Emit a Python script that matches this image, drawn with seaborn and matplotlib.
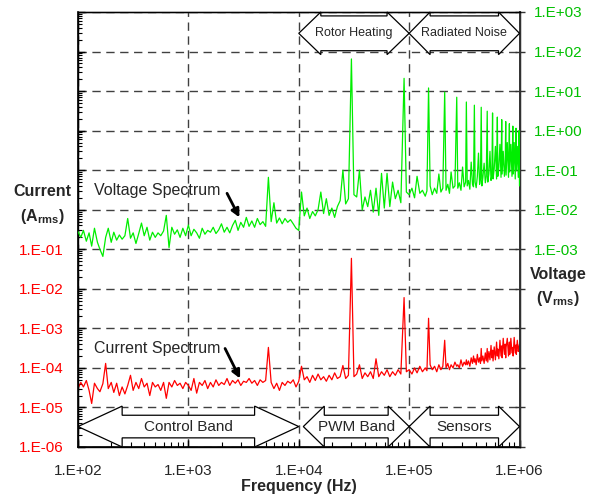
import numpy as np
import pandas as pd
import matplotlib
matplotlib.use("Agg")
import matplotlib.pyplot as plt
import seaborn as sns
from matplotlib.patches import Polygon
from matplotlib.transforms import blended_transform_factory
from matplotlib.ticker import LogLocator, FuncFormatter, NullFormatter

# ---------------- data ----------------
freq_hz = [
    100, 106, 112, 119, 126, 133, 141, 150, 158, 168, 178, 188, 200, 211, 224, 237, 251, 266, 282, 299,
    316, 335, 355, 376, 398, 422, 447, 473, 501, 531, 562, 596, 631, 668, 708, 750, 794, 841, 891, 944,
    1000, 1059, 1122, 1189, 1259, 1334, 1413, 1496, 1585, 1679, 1778, 1884, 1995, 2113, 2239, 2371, 2512, 2661, 2818, 2985,
    3162, 3350, 3548, 3758, 3981, 4217, 4467, 4732, 5012, 5309, 5623, 5957, 6310, 6683, 7079, 7499, 7943, 8414, 8913, 9441,
    10000, 10593, 11220, 11885, 12589, 13335, 14125, 14962, 15849, 16788, 17783, 18836, 19953, 21135, 22387, 23714, 25119, 26607, 28184, 30000,
    31623, 33497, 35481, 37584, 39811, 42170, 44668, 47315, 50119, 53088, 56234, 59566, 63096, 66834, 70795, 74989, 79433, 84140, 90000, 94406,
    100000, 106000, 112000, 118000, 125000, 132000, 140000, 145000,
    150000, 155000, 162000, 170000, 178000, 186000, 194000, 202000,
    210000, 216000, 224000, 232000, 240000, 250000, 260000,
    270000, 276000, 285000, 295000, 305000, 315000, 325000,
    330000, 336000, 345000, 355000, 365000, 375000, 383000,
    390000, 396000, 405000, 415000, 425000, 435000, 443000,
    450000, 456000, 466000, 478000, 490000, 500000,
    510000, 516000, 528000, 540000, 552000, 562000,
    570000, 576000, 590000, 605000, 620000,
    630000, 636000, 650000, 665000, 680000,
    690000, 696000, 712000, 730000, 742000,
    750000, 756000, 775000, 795000,
    810000, 816000, 835000, 855000,
    870000, 876000, 895000, 915000,
    930000, 936000, 955000, 975000,
    990000, 1000000,
]

voltage_vrms = [
    2.8e-3, 2.0e-3, 3.0e-3, 1.6e-3, 2.6e-3, 1.2e-3, 3.4e-3, 1.5e-3, 1.0e-3, 6.6e-4,
    2.0e-3, 3.4e-3, 1.5e-3, 2.7e-3, 1.7e-3, 2.3e-3, 1.8e-3, 2.2e-3, 6.0e-3, 1.9e-3,
    2.6e-3, 1.4e-3, 2.5e-3, 4.6e-3, 2.2e-3, 3.6e-3, 1.7e-3, 2.7e-3, 2.0e-3, 2.6e-3,
    2.2e-3, 2.9e-3, 7.2e-3, 1.1e-3, 3.6e-3, 2.4e-3, 3.1e-3, 2.0e-3, 3.4e-3, 2.2e-3,
    4.1e-3, 2.2e-3, 3.2e-3, 2.6e-3, 1.9e-3, 3.4e-3, 2.4e-3, 3.0e-3, 2.7e-3, 3.6e-3,
    2.5e-3, 3.1e-3, 4.4e-3, 2.7e-3, 3.6e-3, 2.6e-3, 4.0e-3, 5.4e-3, 3.0e-3, 4.8e-3,
    3.6e-3, 6.4e-3, 3.8e-3, 5.2e-3, 3.6e-3, 6.0e-3, 4.2e-3, 5.0e-3, 3.8e-3, 6.6e-2,
    5.0e-3, 1.5e-2, 4.6e-3, 6.2e-3, 4.4e-3, 6.0e-3, 4.8e-3, 5.6e-3, 4.4e-3, 3.4e-3,
    3.0e-3, 2.8e-2, 7.0e-3, 1.1e-2, 6.0e-3, 9.0e-3, 7.0e-3, 1.0e-2, 2.8e-2, 8.0e-3,
    1.9e-2, 7.2e-3, 1.1e-2, 6.4e-3, 1.2e-2, 1.7e-2, 1.0e-1, 1.4e-2, 1.9e-2, 65.0,
    2.4e-2, 2.1e-2, 1.0e-1, 9.8e-3, 2.1e-2, 1.2e-2, 3.1e-2, 8.7e-3, 3.5e-2, 7.2e-3,
    8.3e-2, 1.1e-2, 8.3e-2, 1.2e-2, 5.0e-2, 1.9e-2, 3.1e-2, 1.5e-2, 21.0, 2.8e-2,
    2.4e-2, 3.5e-2, 2.0e-2, 7.0e-2, 2.6e-2, 3.1e-2, 2.2e-2, 3.0e-2,
    12.0, 4.0e-2, 2.4e-2, 3.5e-2, 2.6e-2, 8.0e-2, 2.8e-2, 3.5e-2,
    9.4, 3.1e-2, 4.4e-2, 2.6e-2, 9.0e-2, 3.5e-2, 4.0e-2,
    7.0, 3.5e-2, 4.8e-2, 3.1e-2, 1.2e-1, 3.8e-2, 5.0e-2,
    5.3, 4.0e-2, 5.5e-2, 3.3e-2, 1.6e-1, 4.4e-2, 3.8e-2,
    4.4, 5.0e-2, 3.6e-2, 7.0e-2, 2.7e-1, 4.4e-2, 6.0e-2,
    3.9, 4.0e-2, 6.6e-2, 1.5e-1, 4.8e-2, 7.0e-2,
    3.1, 5.0e-2, 8.0e-2, 3.0e-1, 5.5e-2, 7.5e-2,
    2.8, 6.0e-2, 1.1e-1, 4.0e-1, 6.0e-2,
    2.2, 7.0e-2, 1.2e-1, 4.5e-1, 6.6e-2,
    1.9, 8.0e-2, 3.0e-1, 7.0e-2, 1.3e-1,
    1.7, 7.5e-2, 5.0e-1, 6.6e-2,
    1.5, 9.0e-2, 4.5e-1, 7.0e-2,
    1.3, 8.0e-2, 5.0e-1, 6.0e-2,
    1.15, 1.0e-1, 4.0e-1, 6.6e-2,
    1.0, 4.0e-2,
]

current_arms = [
    3.0e-5, 4.3e-5, 3.3e-5, 4.8e-5, 2.7e-5, 1.26e-5, 4.1e-5, 3.0e-5, 2.5e-5, 4.0e-5,
    1.3e-4, 3.0e-5, 4.3e-5, 2.4e-5, 4.1e-5, 2.0e-5, 3.3e-5, 2.2e-5, 3.6e-5, 6.5e-5,
    2.7e-5, 4.3e-5, 3.0e-5, 5.4e-5, 3.3e-5, 4.1e-5, 2.0e-5, 4.3e-5, 3.3e-5, 3.8e-5,
    2.7e-5, 4.3e-5, 1.7e-5, 4.3e-5, 3.3e-5, 4.8e-5, 3.6e-5, 4.1e-5, 3.0e-5, 4.3e-5,
    3.6e-5, 2.7e-5, 5.4e-5, 2.3e-5, 4.3e-5, 3.6e-5, 4.8e-5, 3.0e-5, 4.3e-5, 3.3e-5,
    5.0e-5, 3.6e-5, 4.3e-5, 3.8e-5, 5.4e-5, 3.6e-5, 4.8e-5, 4.1e-5, 5.0e-5, 3.6e-5,
    4.6e-5, 4.3e-5, 5.4e-5, 4.1e-5, 4.8e-5, 3.6e-5, 5.0e-5, 4.3e-5, 4.8e-5, 3.3e-4,
    4.3e-5, 3.0e-5, 4.1e-5, 2.7e-5, 4.3e-5, 3.6e-5, 4.6e-5, 4.1e-5, 5.0e-5, 3.3e-5,
    4.6e-5, 1.1e-4, 5.0e-5, 6.0e-5, 4.3e-5, 6.5e-5, 4.8e-5, 7.0e-5, 5.0e-5, 6.0e-5,
    4.6e-5, 6.5e-5, 5.0e-5, 7.5e-5, 5.4e-5, 6.0e-5, 1.15e-4, 5.4e-5, 6.5e-5, 5.9e-2,
    6.0e-5, 7.0e-5, 1.2e-4, 5.4e-5, 7.5e-5, 6.0e-5, 8.0e-5, 5.4e-5, 1.7e-4, 6.0e-5,
    8.0e-5, 6.5e-5, 9.0e-5, 6.0e-5, 8.0e-5, 6.5e-5, 9.0e-5, 7.0e-5, 6.0e-3, 8.0e-5,
    9.0e-5, 7.0e-5, 1.0e-4, 7.5e-5, 1.1e-4, 8.0e-5, 1.0e-4, 8.5e-5,
    1.8e-3, 1.2e-4, 9.0e-5, 1.1e-4, 8.0e-5, 1.2e-4, 9.0e-5, 1.1e-4,
    5.0e-4, 1.0e-4, 1.3e-4, 9.0e-5, 1.2e-4, 1.0e-4, 1.4e-4,
    1.1e-4, 1.2e-4, 1.0e-4, 1.6e-4, 1.1e-4, 1.4e-4, 1.2e-4,
    1.6e-4, 1.2e-4, 1.5e-4, 1.1e-4, 1.8e-4, 1.3e-4, 2.0e-4,
    1.4e-4, 1.7e-4, 1.2e-4, 2.2e-4, 1.4e-4, 1.8e-4, 1.3e-4,
    3.1e-4, 1.5e-4, 2.0e-4, 1.3e-4, 2.4e-4, 1.5e-4,
    3.1e-4, 1.4e-4, 2.6e-4, 1.6e-4, 3.7e-4, 1.8e-4,
    2.8e-4, 1.5e-4, 3.4e-4, 1.6e-4, 4.5e-4,
    2.0e-4, 3.0e-4, 1.7e-4, 5.0e-4, 2.0e-4,
    3.6e-4, 1.8e-4, 5.6e-4, 2.2e-4, 4.0e-4,
    1.8e-4, 3.3e-4, 5.6e-4, 2.0e-4,
    4.5e-4, 2.2e-4, 5.6e-4, 2.4e-4,
    3.3e-4, 2.0e-4, 5.9e-4, 2.4e-4,
    3.8e-4, 2.2e-4, 5.0e-4, 2.6e-4,
    3.5e-4, 4.0e-4,
]

assert len(freq_hz) == len(voltage_vrms) == len(current_arms)

df = pd.DataFrame({"freq": freq_hz, "voltage": voltage_vrms, "current": current_arms})

bands_bottom = [("Control Band", 1e2, 1e4, 0.40), ("PWM Band", 1.1e4, 1e5, 0.19), ("Sensors", 1e5, 1e6, 0.19)]
bands_top = [("Rotor Heating", 1e4, 1e5, 0.20), ("Radiated Noise", 1e5, 1e6, 0.19)]

# ---------------- style ----------------
sns.set_style("white")
plt.rcParams["font.family"] = ["Liberation Sans", "DejaVu Sans"]
plt.rcParams["mathtext.fontset"] = "custom"
plt.rcParams["mathtext.rm"] = "Liberation Sans"
plt.rcParams["mathtext.bf"] = "Liberation Sans:bold"

RED = "#ff0000"
GREEN = "#00ee00"
GREEN_TXT = "#00c000"
GRID = "#404040"

fig = plt.figure(figsize=(5.93, 4.97), dpi=100)
ax = fig.add_axes([78 / 593, 50 / 497, (519.5 - 78) / 593, (447 - 12) / 497])
ax2 = ax.twinx()

for a in (ax, ax2):
    a.set_xscale("log")
    a.set_yscale("log")
ax.set_xlim(1e2, 1e6)
ax.set_ylim(1e-6, 1e5)
ax2.set_ylim(1e-8, 1e3)

sns.lineplot(data=df, x="freq", y="current", ax=ax, color=RED, lw=0.9, estimator=None, zorder=3)
sns.lineplot(data=df, x="freq", y="voltage", ax=ax2, color=GREEN, lw=0.9, estimator=None, zorder=3)
ax.set_xlim(1e2, 1e6)
ax.set_ylim(1e-6, 1e5)
ax2.set_ylim(1e-8, 1e3)
ax.set_ylabel("")
ax2.set_ylabel("")
ax2.set_xlabel("")


def sci_fmt(lo, hi):
    def f(v, pos):
        e = int(round(np.log10(v)))
        if lo <= e <= hi:
            return f"1.E{e:+03d}"
        return ""
    return FuncFormatter(f)


# x axis
ax.xaxis.set_major_locator(LogLocator(base=10, numticks=20))
ax.xaxis.set_minor_locator(LogLocator(base=10, subs=np.arange(2, 10), numticks=40))
ax.xaxis.set_major_formatter(sci_fmt(2, 6))
ax.xaxis.set_minor_formatter(NullFormatter())
ax.tick_params(axis="x", which="major", direction="in", length=5, width=1, labelsize=11, pad=12.5, color="black")
ax.tick_params(axis="x", which="minor", direction="in", length=3.5, width=0.8, color="black")

# left y axis
ax.yaxis.set_major_locator(LogLocator(base=10, numticks=30))
ax.yaxis.set_minor_locator(LogLocator(base=10, subs=np.arange(2, 10), numticks=60))
ax.yaxis.set_major_formatter(sci_fmt(-6, -1))
ax.yaxis.set_minor_formatter(NullFormatter())
ax.tick_params(axis="y", which="major", direction="in", length=5, width=1, labelsize=11, pad=10,
               labelcolor=RED, color="black")
ax.tick_params(axis="y", which="minor", direction="in", length=3, width=0.8, color="black")

# right y axis
ax2.yaxis.set_major_locator(LogLocator(base=10, numticks=30))
ax2.yaxis.set_minor_locator(LogLocator(base=10, subs=[], numticks=30))
ax2.yaxis.set_major_formatter(sci_fmt(-3, 3))
ax2.yaxis.set_minor_formatter(NullFormatter())
ax2.tick_params(axis="y", which="major", direction="inout", length=7, width=1, labelsize=11, pad=7,
                labelcolor=GREEN_TXT, color="#333333")
ax2.tick_params(axis="y", which="minor", length=0)

# x ticks repeated on the twin axes, so they draw above the band arrows
ax2.xaxis.set_visible(True)
ax2.xaxis.set_major_locator(LogLocator(base=10, numticks=20))
ax2.xaxis.set_minor_locator(LogLocator(base=10, subs=np.arange(2, 10), numticks=40))
ax2.tick_params(axis="x", which="both", labelbottom=False, labeltop=False, bottom=True, top=False,
                direction="in", color="black")
ax2.tick_params(axis="x", which="major", length=5, width=1)
ax2.tick_params(axis="x", which="minor", length=3.5, width=0.8)

# grid
ax.grid(True, which="major", axis="both", color=GRID, linestyle=(0, (6, 4)), linewidth=1.0)
ax.grid(False, which="minor")

for a in (ax, ax2):
    for s in a.spines.values():
        s.set_visible(True)
        s.set_color("black")
        s.set_linewidth(1.0)
ax2.spines["right"].set_color("#333333")
ax2.spines["right"].set_linewidth(1.4)
ax.spines["left"].set_linewidth(1.2)
ax.spines["bottom"].set_linewidth(1.2)
ax.spines["top"].set_color("#666666")

ax.set_xlabel("Frequency (Hz)", fontweight="bold", fontsize=11.5, labelpad=0.5)

# axis titles
fig.text(42 / 593, 1 - 191 / 497, "Current", ha="center", va="center", fontsize=11.5, fontweight="bold")
fig.text(42 / 593, 1 - 217 / 497, r"(A$_{\mathbf{rms}}$)", ha="center", va="center", fontsize=11.5, fontweight="bold")
fig.text(558 / 593, 1 - 275 / 497, "Voltage", ha="center", va="center", fontsize=11.5, fontweight="bold")
fig.text(558 / 593, 1 - 299 / 497, r"(V$_{\mathbf{rms}}$)", ha="center", va="center", fontsize=11.5, fontweight="bold")

# band arrows
trans = blended_transform_factory(ax2.transData, ax2.transAxes)


def band_arrow(label, xl, xr, hl, yc, hh, bh, fs, clip):
    k = 10 ** hl
    pts = [(xl, yc), (xl * k, yc + hh), (xl * k, yc + bh), (xr / k, yc + bh), (xr / k, yc + hh),
           (xr, yc), (xr / k, yc - hh), (xr / k, yc - bh), (xl * k, yc - bh), (xl * k, yc - hh)]
    poly = Polygon(pts, closed=True, facecolor="white", edgecolor="black", linewidth=0.9,
                   transform=trans, zorder=5, clip_on=clip)
    ax2.add_patch(poly)
    xm = np.sqrt(xl * xr)
    ax2.text(xm, yc, label, transform=trans, ha="center", va="center", fontsize=fs, zorder=6)


for lab, xl, xr, hl in bands_bottom:
    band_arrow(lab, xl, xr, hl, 0.047, 0.047, 0.026, 11, True)
for lab, xl, xr, hl in bands_top:
    band_arrow(lab, xl, xr, hl, 0.951, 0.049, 0.040, 9, False)

# spectrum annotations: label text plus separate pointer arrow
arrow_kw = dict(arrowstyle="-|>", color="black", lw=2, mutation_scale=12, shrinkA=0, shrinkB=0)
ax2.text(140, 3.1e-2, "Voltage Spectrum", ha="left", va="center", fontsize=11.5, zorder=7)
ax2.annotate("", xy=(2.9e3, 6.4e-3), xytext=(2.24e3, 2.6e-2), arrowprops=arrow_kw, zorder=7)
ax.text(140, 3.1e-4, "Current Spectrum", ha="left", va="center", fontsize=11.5, zorder=7)
ax.annotate("", xy=(2.94e3, 5.4e-5), xytext=(2.15e3, 3.1e-4), arrowprops=arrow_kw, zorder=7)

fig.savefig("out.png", dpi=100)
